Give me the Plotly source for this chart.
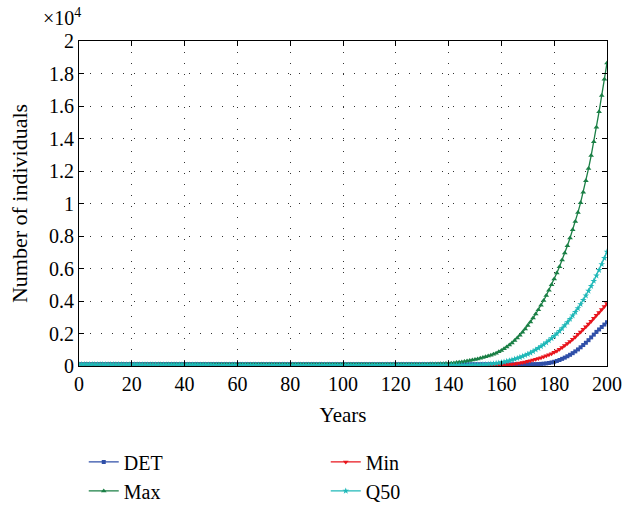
import plotly.graph_objects as go

years = list(range(0, 201))

det = [
    100, 100, 100, 101, 101, 101, 101, 102, 102, 102,
    102, 102, 103, 103, 103, 103, 103, 103, 104, 104,
    104, 104, 104, 104, 104, 104, 104, 105, 105, 105,
    105, 105, 105, 105, 105, 105, 105, 105, 105, 105,
    105, 105, 105, 105, 105, 105, 105, 105, 105, 105,
    105, 105, 105, 105, 104, 104, 104, 104, 104, 104,
    104, 104, 104, 104, 104, 104, 103, 103, 103, 103,
    103, 103, 103, 103, 103, 103, 103, 102, 102, 102,
    102, 102, 102, 102, 102, 102, 102, 102, 102, 102,
    101, 101, 101, 101, 101, 101, 101, 101, 101, 101,
    101, 101, 101, 101, 101, 101, 101, 101, 101, 101,
    101, 101, 101, 101, 101, 101, 101, 101, 101, 101,
    101, 101, 101, 101, 101, 101, 101, 101, 101, 101,
    101, 101, 101, 101, 101, 101, 101, 101, 101, 101,
    101, 101, 101, 101, 101, 101, 101, 101, 101, 101,
    101, 101, 101, 101, 101, 101, 101, 102, 102, 102,
    102, 102, 102, 102, 103, 103, 103, 104, 104, 105,
    106, 108, 111, 115, 121, 130, 142, 160, 185, 218,
    260, 310, 370, 440, 515, 600, 690, 790, 900, 1020,
    1150, 1290, 1430, 1590, 1760, 1930, 2100, 2250, 2400, 2550,
    2700,
]

max_vals = [
    100, 101, 102, 103, 103, 104, 104, 105, 105, 106,
    106, 106, 107, 107, 107, 107, 108, 108, 108, 108,
    108, 108, 109, 109, 109, 109, 109, 109, 109, 109,
    110, 110, 110, 110, 110, 110, 110, 110, 110, 110,
    110, 110, 110, 110, 110, 110, 110, 110, 110, 110,
    110, 110, 110, 110, 110, 110, 110, 110, 110, 110,
    110, 110, 110, 110, 110, 110, 110, 110, 110, 110,
    110, 110, 110, 110, 110, 110, 110, 110, 110, 110,
    110, 110, 110, 110, 110, 110, 110, 110, 110, 110,
    110, 110, 110, 110, 110, 110, 110, 110, 110, 110,
    110, 110, 110, 110, 110, 110, 110, 110, 111, 111,
    111, 111, 111, 111, 111, 111, 111, 111, 111, 111,
    111, 111, 111, 111, 112, 112, 112, 112, 112, 112,
    113, 114, 115, 117, 119, 122, 126, 131, 138, 147,
    160, 175, 192, 210, 229, 250, 275, 302, 332, 364,
    398, 435, 475, 518, 565, 615, 668, 725, 790, 870,
    960, 1060, 1170, 1290, 1420, 1570, 1730, 1900, 2080, 2280,
    2490, 2710, 2950, 3200, 3460, 3740, 4030, 4340, 4660, 5000,
    5350, 5720, 6110, 6520, 6950, 7400, 7880, 8380, 8900, 9450,
    10050, 10700, 11400, 12150, 12950, 13800, 14700, 15650, 16650, 17650,
    18650,
]

min_vals = [
    100, 98, 96, 94, 92, 90, 88, 86, 84, 82,
    80, 79, 77, 76, 74, 73, 71, 70, 68, 67,
    66, 64, 63, 62, 61, 60, 58, 57, 56, 55,
    54, 53, 52, 51, 50, 49, 48, 47, 46, 45,
    44, 43, 43, 42, 41, 40, 39, 39, 38, 37,
    36, 36, 35, 34, 34, 33, 32, 32, 31, 30,
    30, 29, 29, 28, 27, 27, 26, 26, 25, 25,
    24, 24, 23, 23, 22, 22, 21, 21, 20, 20,
    19, 19, 18, 18, 18, 17, 17, 16, 16, 16,
    15, 15, 15, 14, 14, 14, 13, 13, 13, 12,
    12, 12, 11, 11, 11, 11, 10, 10, 10, 10,
    9, 9, 9, 9, 8, 8, 8, 8, 8, 8,
    7, 7, 7, 7, 7, 7, 7, 7, 8, 8,
    8, 9, 9, 10, 10, 11, 12, 13, 14, 15,
    16, 17, 18, 19, 20, 21, 22, 23, 24, 25,
    26, 27, 28, 30, 32, 34, 36, 39, 42, 46,
    50, 60, 73, 88, 105, 125, 152, 182, 215, 251,
    290, 330, 372, 416, 463, 515, 570, 625, 690, 760,
    840, 930, 1035, 1145, 1260, 1380, 1510, 1650, 1790, 1950,
    2100, 2260, 2420, 2590, 2760, 2940, 3120, 3300, 3480, 3660,
    3850,
]

q50 = [
    100, 99, 98, 97, 96, 95, 94, 93, 92, 91,
    90, 89, 88, 88, 87, 86, 85, 84, 84, 83,
    82, 81, 81, 80, 79, 79, 78, 77, 77, 76,
    75, 75, 74, 74, 73, 72, 72, 71, 71, 70,
    70, 69, 69, 68, 68, 67, 67, 66, 66, 65,
    65, 64, 64, 64, 63, 63, 62, 62, 62, 61,
    61, 61, 60, 60, 60, 59, 59, 59, 58, 58,
    58, 58, 57, 57, 57, 57, 56, 56, 56, 56,
    56, 55, 55, 55, 55, 55, 55, 54, 54, 54,
    54, 54, 54, 54, 54, 54, 53, 53, 53, 53,
    53, 53, 53, 53, 53, 53, 53, 53, 53, 53,
    53, 53, 53, 53, 53, 53, 53, 54, 54, 54,
    54, 54, 54, 54, 54, 54, 54, 54, 55, 55,
    55, 55, 55, 56, 56, 56, 57, 57, 57, 58,
    58, 58, 59, 60, 60, 61, 62, 63, 65, 66,
    68, 73, 79, 87, 97, 110, 126, 145, 167, 192,
    220, 253, 290, 330, 375, 425, 478, 535, 595, 660,
    730, 810, 900, 1000, 1100, 1210, 1320, 1440, 1570, 1700,
    1840, 1990, 2150, 2320, 2500, 2690, 2890, 3100, 3320, 3550,
    3800, 4060, 4330, 4620, 4920, 5230, 5560, 5900, 6260, 6640,
    7030,
]

x_ticks = [0, 20, 40, 60, 80, 100, 120, 140, 160, 180, 200]
y_tick_vals = [0, 2000, 4000, 6000, 8000, 10000, 12000, 14000, 16000, 18000, 20000]
y_tick_text = ["0", "0.2", "0.4", "0.6", "0.8", "1", "1.2", "1.4", "1.6", "1.8", "2"]

FONT = "Liberation Serif, Times New Roman, serif"

series = [
    ("DET", det, "#2f4fa8", "square", 4, 1),
    ("Max", max_vals, "#1a7f45", "triangle-up", 5, 3),
    ("Min", min_vals, "#e8141c", "triangle-down", 5, 2),
    ("Q50", q50, "#1fb8b8", "star", 5, 4),
]

fig = go.Figure()
for name, vals, color, sym, size, rank in series:
    fig.add_trace(go.Scatter(
        x=years, y=vals, name=name, mode="lines+markers",
        line=dict(color=color, width=1.3),
        marker=dict(symbol=sym, size=size, color=color, line=dict(width=0)),
        legendrank=rank,
    ))

axis_common = dict(
    showline=True, linecolor="black", linewidth=1, mirror="ticks",
    ticks="inside", ticklen=5, tickcolor="black",
    showgrid=True, gridcolor="#333333", gridwidth=1, griddash="1px,10px",
    zeroline=False, tickfont=dict(family=FONT, size=20, color="black"),
)

fig.update_xaxes(range=[0, 200], tickvals=x_ticks,
                 title=dict(text="Years", font=dict(family=FONT, size=21, color="black"), standoff=13),
                 **axis_common)
fig.update_yaxes(range=[0, 20000], tickvals=y_tick_vals, ticktext=y_tick_text,
                 title=dict(text="Number of individuals", font=dict(family=FONT, size=22, color="black"), standoff=15),
                 **axis_common)

fig.add_annotation(text="×10<sup>4</sup>", xref="paper", yref="paper",
                   x=-0.072, y=1.03, xanchor="left", yanchor="bottom", showarrow=False,
                   font=dict(family=FONT, size=20, color="black"))

fig.update_layout(
    width=622, height=506,
    margin=dict(l=79, r=15, t=41, b=140, autoexpand=False),
    paper_bgcolor="white", plot_bgcolor="white",
    showlegend=True,
    legend=dict(orientation="h", x=0.009, y=-0.235, xanchor="left", yanchor="top",
                entrywidth=197, entrywidthmode="pixels", itemwidth=30,
                font=dict(family=FONT, size=20, color="black"),
                bgcolor="rgba(0,0,0,0)", traceorder="normal"),
)

fig.write_html("out.html",
               config={"displayModeBar": False},
               post_script="document.body.style.margin='0';document.body.style.overflow='hidden';")
